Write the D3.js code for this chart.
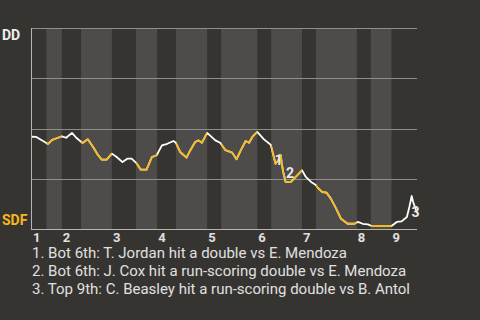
<!DOCTYPE html>
<html>
<head>
<meta charset="utf-8">
<script src="https://cdn.jsdelivr.net/npm/d3@7"></script>
<style>
  html, body { margin: 0; padding: 0; background: #363430; }
  svg { display: block; font-family: Roboto, "Noto Sans", sans-serif; }
</style>
</head>
<body>
<div id="chart"></div>
<script>
// game progress (plays) and DD win probability (%) along the game
const progress = [0, 0.9, 2.3, 3.3, 4.2, 5.4, 6.2, 7.1, 8.3, 9.2, 10.5, 11.6, 12.7, 13.7, 14.5, 15.5,
  16.6, 17.6, 18.8, 19.8, 20.7, 21.8, 22.6, 23.8, 24.9, 25.9, 27.0, 28.1, 29.4, 29.9, 30.8, 32.1,
  32.9, 33.9, 34.6, 35.3, 36.4, 38.1, 39.1, 40.2, 41.6, 42.5, 43.4, 44.4, 45.1, 45.8, 46.8, 48.2,
  49.6, 49.9, 50.6, 51.2, 51.7, 51.9, 52.2, 52.7, 53.8, 54.8, 56.1, 56.9, 58.0, 58.9, 59.4, 60.3,
  61.2, 62.1, 63.2, 64.2, 65.6, 67.0, 67.7, 68.7, 69.8, 70.6, 74.7, 75.8, 76.8, 77.9, 78.4, 78.9,
  79.2, 80];
const ddWinPct = [45.9, 45.8, 43.8, 42.3, 44.3, 45.4, 46.1, 45.4, 47.8, 45.4, 42.8, 44.6, 40.8, 36.8, 34.5, 34.5,
  37.5, 35.8, 33.3, 35.0, 35.0, 32.5, 29.5, 29.5, 35.8, 36.7, 41.6, 42.4, 43.8, 42.9, 38.3, 35.5,
  39.2, 43.3, 44.1, 42.9, 47.8, 44.1, 42.9, 39.2, 38.0, 34.7, 39.2, 43.8, 42.9, 45.8, 48.3, 44.6,
  41.9, 39.2, 32.5, 34.2, 36.7, 32.5, 28.4, 23.4, 23.4, 25.9, 29.2, 25.9, 23.4, 22.0, 20.5, 18.4,
  18.1, 15.1, 10.1, 5.1, 2.6, 2.6, 3.5, 2.6, 2.3, 1.5, 1.5, 3.5, 3.8, 6.0, 10.9, 16.4,
  13.4, 8.0];

// half-inning boundaries (top 1st ... top 9th, then end of game)
const halfStarts = [0, 3.0, 6.2, 10.2, 16.6, 21.6, 26.0, 29.9, 36.4, 39.3, 46.8, 49.7, 56.1, 59.0, 67.5, 70.4, 74.7];
const gameEnd = 80;
const inningLabels = ['1', '2', '3', '4', '5', '6', '7', '8', '9'];

const teams = ['DD', 'SDF'];
const yTicks = [0, 25, 50, 75, 100];

const noteIds = ['1', '2', '3'];
const noteProgress = [51.3, 53.6, 79.7];
const noteValue = [31.7, 25.4, 6.0];
const noteTexts = [
  '1. Bot 6th: T. Jordan hit a double vs E. Mendoza',
  '2. Bot 6th: J. Cox hit a run-scoring double vs E. Mendoza',
  '3. Top 9th: C. Beasley hit a run-scoring double vs B. Antol'
];

const width = 480, height = 320;
const margin = { top: 28, right: 63, bottom: 91, left: 32 };
const bg = '#363430', band = '#4d4c4b', yellow = '#f6b81e';

const svg = d3.select('#chart').append('svg')
  .attr('width', width)
  .attr('height', height);

svg.append('rect').attr('width', width).attr('height', height).attr('fill', bg);

const x = d3.scaleLinear().domain([0, gameEnd]).range([margin.left, width - margin.right]);
const y = d3.scaleLinear().domain([0, 100]).range([height - margin.bottom, margin.top]);

const halves = halfStarts.map((s, i) => ({
  start: s,
  end: i + 1 < halfStarts.length ? halfStarts[i + 1] : gameEnd,
  bottom: i % 2 === 1
}));

// lighter bands for bottom halves
svg.append('g').selectAll('rect')
  .data(halves.filter(d => d.bottom))
  .enter().append('rect')
  .attr('x', d => x(d.start))
  .attr('y', y(100))
  .attr('width', d => x(d.end) - x(d.start))
  .attr('height', y(0) - y(100))
  .attr('fill', band);

// grid lines
svg.append('g').selectAll('line')
  .data(yTicks)
  .enter().append('line')
  .attr('x1', x(0))
  .attr('x2', x(gameEnd))
  .attr('y1', d => Math.round(y(d)) + 0.5)
  .attr('y2', d => Math.round(y(d)) + 0.5)
  .attr('stroke', d => d === 0 ? '#b5b5b5' : '#8e8e8e')
  .attr('stroke-width', 1);

svg.append('line')
  .attr('x1', x(0) - 0.5).attr('x2', x(0) - 0.5)
  .attr('y1', y(100)).attr('y2', y(0) + 1)
  .attr('stroke', '#b5b5b5');

// clip for the bottom halves, line is yellow there
const clip = svg.append('defs').append('clipPath').attr('id', 'bottomHalves');
clip.selectAll('rect')
  .data(halves.filter(d => d.bottom))
  .enter().append('rect')
  .attr('x', d => x(d.start))
  .attr('y', 0)
  .attr('width', d => x(d.end) - x(d.start))
  .attr('height', height);

const points = progress.map((p, i) => [p, ddWinPct[i]]);
const line = d3.line().x(d => x(d[0])).y(d => y(d[1]));

svg.append('path')
  .datum(points)
  .attr('d', line)
  .attr('fill', 'none')
  .attr('stroke', '#ffffff')
  .attr('stroke-width', 1.8)
  .attr('stroke-linejoin', 'round');

svg.append('path')
  .datum(points)
  .attr('d', line)
  .attr('fill', 'none')
  .attr('stroke', yellow)
  .attr('stroke-width', 1.8)
  .attr('stroke-linejoin', 'round')
  .attr('clip-path', 'url(#bottomHalves)');

// note markers on the line
svg.append('g').selectAll('text')
  .data(noteIds)
  .enter().append('text')
  .attr('x', (d, i) => x(noteProgress[i]))
  .attr('y', (d, i) => y(noteValue[i]))
  .attr('text-anchor', 'middle')
  .attr('font-size', 14)
  .attr('font-weight', 'bold')
  .attr('fill', '#e6e6e6')
  .text(d => d);

// team labels
svg.append('text')
  .attr('x', 2).attr('y', y(100) + 11.5)
  .attr('font-size', 14).attr('font-weight', 'bold')
  .attr('fill', '#eeeeee')
  .text(teams[0]);

svg.append('text')
  .attr('x', 2).attr('y', y(0) - 4.5)
  .attr('font-size', 14).attr('font-weight', 'bold')
  .attr('fill', yellow)
  .text(teams[1]);

// inning labels at the start of each top half
svg.append('g').selectAll('text')
  .data(inningLabels)
  .enter().append('text')
  .attr('x', (d, i) => x(halfStarts[i * 2]) + 1)
  .attr('y', y(0) + 13)
  .attr('font-size', 13)
  .attr('font-weight', 'bold')
  .attr('fill', '#e0e0e0')
  .text(d => d);

// notes below
svg.append('g').selectAll('text')
  .data(noteTexts)
  .enter().append('text')
  .attr('x', 32)
  .attr('y', (d, i) => 258 + i * 18)
  .attr('font-size', 15)
  .attr('fill', '#e0e0e0')
  .text(d => d);
</script>
</body>
</html>
